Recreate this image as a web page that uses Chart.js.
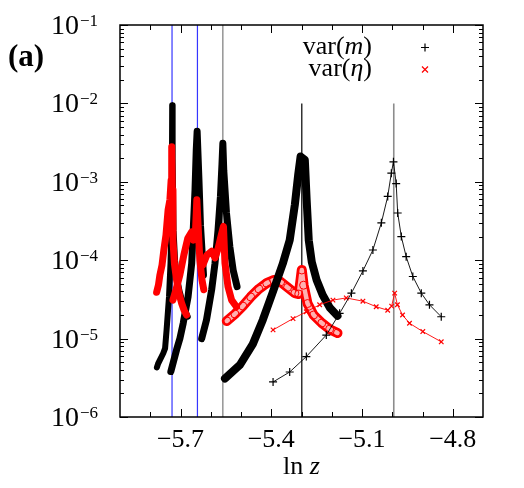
<!DOCTYPE html>
<html>
<head>
<meta charset="utf-8">
<script src="https://cdn.jsdelivr.net/npm/chart.js@4.4.1/dist/chart.umd.min.js"></script>
<style>
  html, body { margin: 0; padding: 0; background: #fff; }
  canvas { display: block; }
</style>
</head>
<body>
<canvas id="chart" width="524" height="488"></canvas>
<script>
// values: one run per peak, var(m) and var(eta)
const mA_x = [-5.778, -5.774, -5.757, -5.751, -5.746, -5.738, -5.733, -5.729, -5.7275, -5.726, -5.723, -5.718, -5.712, -5.703, -5.693, -5.683, -5.676];
const mA_y = [4.3e-6, 4.8e-6, 6.5e-6, 7.5e-6, 1.29e-5, 3.4e-5, 9.1e-5, 3.5e-4, 9.5e-3, 2.0e-3, 2.4e-4, 1.0e-4, 6.0e-5, 4.0e-5, 2.9e-5, 2.2e-5, 1.9e-5];
const etaA_x = [-5.779, -5.773, -5.768, -5.761, -5.755, -5.748, -5.741, -5.735, -5.731, -5.729, -5.727, -5.725, -5.720, -5.713, -5.705, -5.696, -5.688, -5.680];
const etaA_y = [3.9e-5, 4.8e-5, 6.5e-5, 8.7e-5, 1.35e-4, 2.1e-4, 4.4e-4, 5.9e-4, 1.05e-3, 2.8e-3, 7.9e-4, 1.8e-4, 9.0e-5, 5.6e-5, 3.8e-5, 2.8e-5, 2.3e-5, 2.0e-5];

const mB_x = [-5.732, -5.713, -5.702, -5.691, -5.675, -5.663, -5.658, -5.652, -5.648, -5.645, -5.639, -5.634, -5.629, -5.624];
const mB_y = [3.8e-6, 7.2e-6, 1.0e-5, 1.57e-5, 3.4e-5, 9.1e-5, 2.4e-4, 7.9e-4, 2.5e-3, 4.4e-3, 1.05e-3, 2.8e-4, 1.35e-4, 6.5e-5];
const etaB_x = [-5.725, -5.715, -5.702, -5.689, -5.676, -5.663, -5.657, -5.651, -5.646, -5.641, -5.636, -5.629, -5.623];
const etaB_y = [3.1e-5, 4.2e-5, 6.5e-5, 1.16e-4, 1.9e-4, 2.3e-4, 1.8e-4, 2.1e-4, 5.9e-4, 2.4e-4, 1.0e-4, 5.6e-5, 4.2e-5];

const mC_x = [-5.630, -5.614, -5.597, -5.586, -5.576, -5.568, -5.563, -5.560, -5.557, -5.548, -5.537, -5.526, -5.513];
const mC_y = [1.0e-5, 1.73e-5, 4.2e-5, 9.1e-5, 2.4e-4, 6.5e-4, 1.64e-3, 3.1e-3, 1.4e-3, 4.0e-4, 1.5e-4, 7.5e-5, 4.6e-5];
const etaC_x = [-5.626, -5.613, -5.597, -5.586, -5.577, -5.565, -5.558, -5.553, -5.543, -5.531, -5.515];
const etaC_y = [8.7e-5, 1.16e-4, 1.3e-4, 1.07e-4, 1.35e-4, 2.1e-4, 2.7e-4, 9.2e-5, 4.6e-5, 3.1e-5, 2.55e-5];

const mD_x = [-5.553, -5.504, -5.461, -5.428, -5.395, -5.362, -5.339, -5.322, -5.311, -5.303, -5.289, -5.283, -5.276, -5.266, -5.250, -5.230, -5.207, -5.181];
const mD_y = [3.1e-6, 4.6e-6, 8.5e-6, 1.73e-5, 3.9e-5, 9.0e-5, 1.8e-4, 5.1e-4, 1.22e-3, 2.1e-3, 1.9e-3, 5.9e-4, 1.8e-4, 9.5e-5, 5.6e-5, 3.6e-5, 2.5e-5, 1.95e-5];
const etaD_x = [-5.547, -5.520, -5.494, -5.468, -5.441, -5.415, -5.392, -5.369, -5.346, -5.322, -5.309, -5.299, -5.293, -5.280, -5.260, -5.233, -5.207, -5.181];
const etaD_y = [1.68e-5, 2.06e-5, 2.6e-5, 3.4e-5, 4.3e-5, 5.1e-5, 5.6e-5, 5.3e-5, 4.5e-5, 3.8e-5, 3.7e-5, 7.5e-5, 4.8e-5, 2.8e-5, 2.0e-5, 1.58e-5, 1.32e-5, 1.18e-5];

const mE_x = [-5.394, -5.339, -5.284, -5.218, -5.174, -5.135, -5.097, -5.064, -5.036, -5.015, -5.003, -4.996, -4.987, -4.982, -4.970, -4.954, -4.932, -4.904, -4.877, -4.838];
const mE_y = [2.8e-6, 3.75e-6, 5.9e-6, 1.11e-5, 2.1e-5, 3.8e-5, 7.3e-5, 1.35e-4, 3.0e-4, 6.5e-4, 1.29e-3, 1.8e-3, 9.5e-4, 4.0e-4, 2.0e-4, 1.11e-4, 6.2e-5, 3.8e-5, 2.7e-5, 1.9e-5];
const etaE_x = [-5.394, -5.328, -5.284, -5.240, -5.196, -5.152, -5.097, -5.053, -5.015, -5.002, -4.992, -4.983, -4.966, -4.943, -4.899, -4.838];
const etaE_y = [1.29e-5, 1.8e-5, 2.2e-5, 2.7e-5, 3.1e-5, 3.3e-5, 3.0e-5, 2.55e-5, 2.3e-5, 2.6e-5, 3.8e-5, 2.7e-5, 2.0e-5, 1.57e-5, 1.23e-5, 9.1e-6];

// peak markers and axis ticks
const peakLines = [-5.728, -5.644, -5.56, -5.299, -4.995];
const peakTops = [1e-1, 1e-1, 1e-1, 1e-2, 1e-2];
const xTicks = [-5.7, -5.4, -5.1, -4.8];
const xMinor = [-5.8, -5.7, -5.6, -5.5, -5.4, -5.3, -5.2, -5.1, -5.0, -4.9, -4.8];
const yDecades = [-6, -5, -4, -3, -2, -1];

const SERIF = '"Liberation Serif", "DejaVu Serif", serif';
const RED = '#ff0000';

function pts(xs, ys) {
    return xs.map((x, i) => ({ x, y: ys[i] }));
}

function band(xs, ys, color, width) {
    return {
        data: pts(xs, ys),
        borderColor: color,
        borderWidth: width,
        pointRadius: 0,
        borderJoinStyle: 'round',
        borderCapStyle: 'round',
        tension: 0,
        fill: false
    };
}

function marked(xs, ys, color, style, r) {
    return {
        data: pts(xs, ys),
        borderColor: color,
        borderWidth: 0.9,
        pointStyle: style,
        pointRadius: r,
        pointBorderColor: color,
        pointBorderWidth: 1.2,
        tension: 0,
        fill: false
    };
}

const vlineColors = ['#3535ff', '#3535ff', '#7a7a7a', '#000000', '#8c8c8c'];
const vlines = peakLines.map((vx, i) => ({
    data: [{ x: vx, y: 1e-6 }, { x: vx, y: peakTops[i] }],
    borderColor: vlineColors[i],
    borderWidth: i === 4 ? 1.6 : 1.2,
    pointRadius: 0,
    fill: false
}));

// first dataset ends up on top
const datasets = [
    marked(mE_x, mE_y, '#000', 'cross', 4),
    marked(etaE_x, etaE_y, RED, 'crossRot', 3.2),
    band(etaA_x, etaA_y, RED, 7),
    band(etaB_x, etaB_y, RED, 7),
    band(etaC_x, etaC_y, RED, 7),
    band(mD_x, mD_y, '#000', 8),
    {
        ...band(etaD_x, etaD_y, '#ffb0b0', 4.5),
        pointStyle: 'circle',
        pointRadius: 4,
        pointBorderColor: RED,
        pointBackgroundColor: 'rgba(0,0,0,0)',
        pointBorderWidth: 1
    },
    band(etaD_x, etaD_y, RED, 10),
    band(mA_x, mA_y, '#000', 6),
    band(mB_x, mB_y, '#000', 7),
    band(mC_x, mC_y, '#000', 7),
    ...vlines
];

function richText(ctx, parts, rightX, y, size) {
    let w = 0;
    parts.forEach(([t, it]) => {
        ctx.font = `${it ? 'italic ' : ''}${size}px ${SERIF}`;
        w += ctx.measureText(t).width;
    });
    let x = rightX - w;
    parts.forEach(([t, it]) => {
        ctx.font = `${it ? 'italic ' : ''}${size}px ${SERIF}`;
        ctx.fillText(t, x, y);
        x += ctx.measureText(t).width;
    });
    return w;
}

const decor = {
    id: 'decor',
    afterDraw(chart) {
        const { ctx, chartArea: a, scales } = chart;
        const xs = scales.x, ys = scales.y;
        ctx.save();
        ctx.strokeStyle = '#000';
        ctx.fillStyle = '#000';
        ctx.lineWidth = 1;

        // inward ticks on all four sides
        ctx.beginPath();
        yDecades.forEach(d => {
            const py = Math.round(ys.getPixelForValue(Math.pow(10, d))) + 0.5;
            ctx.moveTo(a.left, py); ctx.lineTo(a.left + 8, py);
            ctx.moveTo(a.right, py); ctx.lineTo(a.right - 8, py);
            if (d < -1) {
                for (let k = 2; k <= 9; k++) {
                    const pm = Math.round(ys.getPixelForValue(k * Math.pow(10, d))) + 0.5;
                    ctx.moveTo(a.left, pm); ctx.lineTo(a.left + 4, pm);
                    ctx.moveTo(a.right, pm); ctx.lineTo(a.right - 4, pm);
                }
            }
        });
        xMinor.forEach(v => {
            const px = Math.round(xs.getPixelForValue(v)) + 0.5;
            const len = xTicks.some(t => Math.abs(t - v) < 1e-6) ? 8 : 5;
            ctx.moveTo(px, a.bottom); ctx.lineTo(px, a.bottom - len);
            ctx.moveTo(px, a.top); ctx.lineTo(px, a.top + len);
        });
        ctx.stroke();

        ctx.lineWidth = 1.5;
        ctx.strokeRect(a.left, a.top, a.right - a.left, a.bottom - a.top);

        // y labels 10^-n
        ctx.textAlign = 'left';
        ctx.textBaseline = 'alphabetic';
        yDecades.forEach(d => {
            const py = ys.getPixelForValue(Math.pow(10, d));
            const exp = '\u2212' + (-d);
            ctx.font = `17px ${SERIF}`;
            const w2 = ctx.measureText(exp).width;
            ctx.fillText(exp, 98 - w2, py + 1);
            ctx.font = `28px ${SERIF}`;
            const w1 = ctx.measureText('10').width;
            ctx.fillText('10', 98 - w2 - 1 - w1, py + 9);
        });

        // axis title
        ctx.textBaseline = 'middle';
        const cx = (a.left + a.right) / 2;
        ctx.font = `26px ${SERIF}`;
        const w = ctx.measureText('ln ').width;
        ctx.font = `italic 26px ${SERIF}`;
        const wz = ctx.measureText('z').width;
        richText(ctx, [['ln ', false], ['z', true]], cx + (w + wz) / 2, 467, 26);

        // panel label
        ctx.font = `bold 31px ${SERIF}`;
        ctx.fillText('(a)', 8, 58);

        // legend
        richText(ctx, [['var(', false], ['m', true], [')', false]], 372, 47, 26);
        richText(ctx, [['var(', false], ['\u03b7', true], [')', false]], 372, 69, 26);
        ctx.lineWidth = 1.2;
        ctx.strokeStyle = '#000';
        ctx.beginPath();
        ctx.moveTo(421, 47.5); ctx.lineTo(429, 47.5);
        ctx.moveTo(425, 43.5); ctx.lineTo(425, 51.5);
        ctx.stroke();
        ctx.strokeStyle = RED;
        ctx.beginPath();
        ctx.moveTo(422, 66.5); ctx.lineTo(428, 72.5);
        ctx.moveTo(428, 66.5); ctx.lineTo(422, 72.5);
        ctx.stroke();
        ctx.restore();
    }
};

new Chart(document.getElementById('chart').getContext('2d'), {
    type: 'line',
    data: { datasets },
    options: {
        responsive: false,
        animation: false,
        devicePixelRatio: 1,
        layout: { padding: { left: 0, right: 41, top: 25, bottom: 0 } },
        plugins: { legend: { display: false }, tooltip: { enabled: false } },
        scales: {
            x: {
                type: 'linear',
                min: -5.9,
                max: -4.7,
                grid: { display: false, drawTicks: false },
                border: { display: false },
                afterBuildTicks: s => { s.ticks = xTicks.map(v => ({ value: v })); },
                afterFit: s => { s.height = 71; },
                ticks: {
                    autoSkip: false,
                    maxRotation: 0,
                    padding: 8,
                    color: '#000',
                    font: { family: SERIF, size: 26 },
                    callback: v => '\u2212' + Math.abs(v).toFixed(1)
                }
            },
            y: {
                type: 'logarithmic',
                min: 1e-6,
                max: 1e-1,
                grid: { display: false, drawTicks: false },
                border: { display: false },
                afterBuildTicks: s => { s.ticks = yDecades.map(d => ({ value: Math.pow(10, d) })); },
                afterFit: s => { s.width = 120; },
                ticks: { display: false }
            }
        }
    },
    plugins: [decor]
});
</script>
</body>
</html>
